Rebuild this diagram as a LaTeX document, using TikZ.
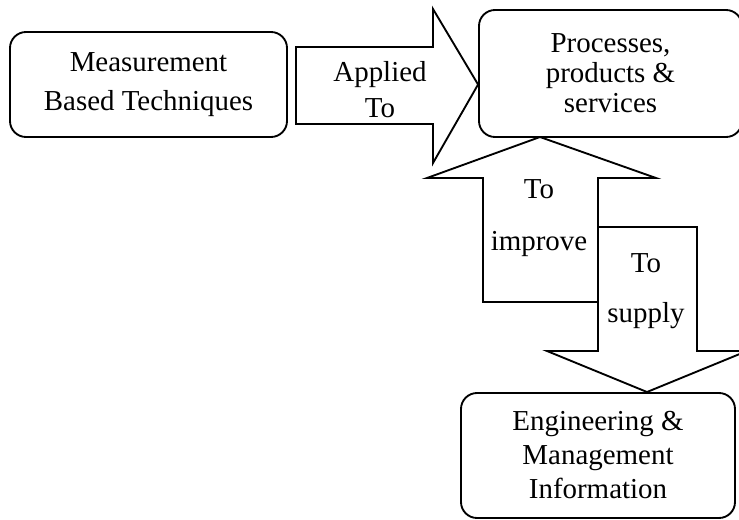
\documentclass[tikz,border=0pt]{standalone}
\usepackage{fontspec}
\setmainfont{Liberation Serif}
\usetikzlibrary{positioning}

\begin{document}
\begin{tikzpicture}[x=0.75pt, y=-0.75pt, line width=1.4pt,
    box/.style={draw, rounded corners=12pt, align=center, inner sep=0pt, font=\fontsize{21.7}{#1}\selectfont},
    fatarrow/.style={draw, fill=white, line join=miter},
    txt/.style={align=center, inner sep=0pt, font=\fontsize{21.7}{#1}\selectfont}]
    % Page frame (the right edge cuts the shapes)
    \useasboundingbox (0,0) rectangle (739,519);
    \clip (0,0) rectangle (739,519);

    % Boxes
    \node[box=29, minimum width=207.75pt, minimum height=78.75pt] (meas) at (148.5,84.5) {Measurement\\Based Techniques};
    \node[box=22.5, minimum width=197.25pt, minimum height=95.25pt] (proc) at (610.5,73.5) {Processes,\\products \&\\services};
    \node[box=25.5, minimum width=205.5pt, minimum height=93.75pt] (info) at (598,455.5) {Engineering \&\\Management\\Information};

    % Fat arrow: Measurement -> Processes
    \draw[fatarrow] (296,47) -- (433,47) -- (433,9) -- (proc.west |- meas.east) -- (433,163) -- (433,124) -- (296,124) -- cycle;
    \node[txt=27] (applied) at (380,90) {Applied\\To};

    % Fat arrow: down to Engineering & Management Information
    \draw[fatarrow] (598,227) -- (697,227) -- (697,351) -- (747,351) -- (647,392) -- (547,351) -- (598,351) -- cycle;
    \node[txt=37.5] (supply) at (646,291.5) {To\\supply};

    % Fat arrow: up to Processes
    \draw[fatarrow] (483,302) -- (483,178) -- (427,178) -- (540,137) -- (656,178) -- (598,178) -- (598,302) -- cycle;
    \node[txt=39] (improve) at (539,218) {To\\improve};
\end{tikzpicture}
\end{document}
